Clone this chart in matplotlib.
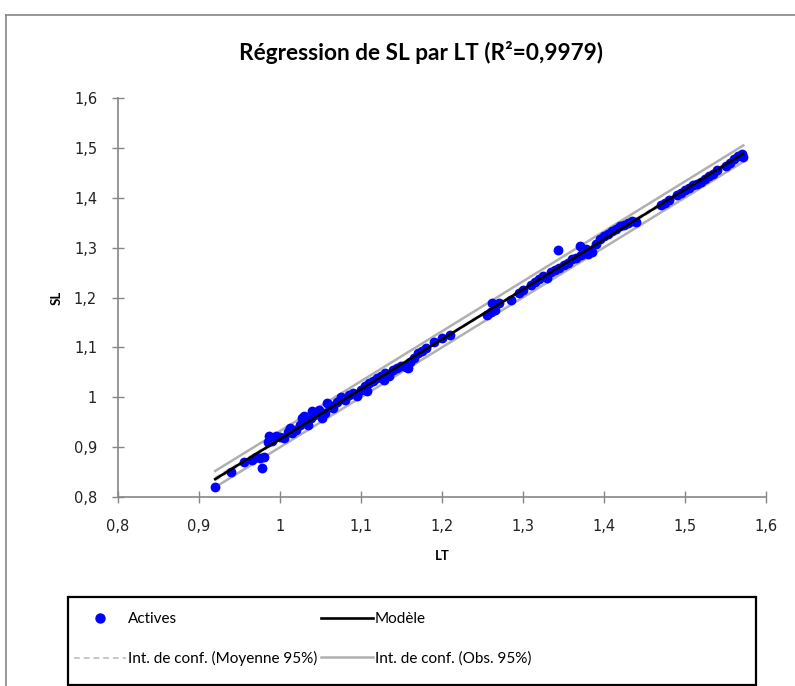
import numpy as np
import matplotlib.pyplot as plt
from matplotlib.lines import Line2D
from matplotlib.patches import Rectangle
from matplotlib.ticker import FuncFormatter

lt = [0.920, 0.940, 0.955, 0.965, 0.970, 0.975, 0.978, 0.980, 0.985, 0.987,
      0.990, 0.995, 1.000, 1.005, 1.010, 1.012, 1.015, 1.020, 1.025, 1.027,
      1.030, 1.032, 1.035, 1.038, 1.040, 1.042, 1.045, 1.048, 1.050, 1.052,
      1.055, 1.058, 1.060, 1.065, 1.070, 1.075, 1.080, 1.085, 1.090, 1.095,
      1.100, 1.105, 1.108, 1.110, 1.115, 1.120, 1.125, 1.128, 1.130, 1.135,
      1.140, 1.145, 1.150, 1.155, 1.158, 1.160, 1.165, 1.170, 1.175, 1.180,
      1.190, 1.200, 1.210, 1.255, 1.260, 1.262, 1.265, 1.270, 1.285, 1.295,
      1.300, 1.310, 1.315, 1.320, 1.325, 1.330, 1.335, 1.340, 1.343, 1.345,
      1.350, 1.355, 1.360, 1.365, 1.370, 1.372, 1.375, 1.378, 1.380, 1.385,
      1.390, 1.395, 1.400, 1.405, 1.410, 1.415, 1.420, 1.425, 1.430, 1.435,
      1.440, 1.470, 1.475, 1.480, 1.490, 1.495, 1.500, 1.505, 1.510, 1.515,
      1.520, 1.525, 1.530, 1.535, 1.540, 1.550, 1.555, 1.560, 1.565, 1.570,
      1.572]
sl = [0.820, 0.850, 0.870, 0.875, 0.880, 0.878, 0.858, 0.880, 0.910, 0.922,
      0.912, 0.922, 0.920, 0.918, 0.930, 0.938, 0.928, 0.935, 0.945, 0.958,
      0.962, 0.950, 0.945, 0.958, 0.972, 0.965, 0.968, 0.975, 0.962, 0.958,
      0.968, 0.988, 0.985, 0.978, 0.990, 1.000, 0.995, 1.005, 1.008, 1.002,
      1.015, 1.022, 1.012, 1.028, 1.032, 1.038, 1.042, 1.035, 1.048, 1.042,
      1.055, 1.058, 1.062, 1.060, 1.058, 1.070, 1.078, 1.088, 1.093, 1.098,
      1.110, 1.118, 1.125, 1.165, 1.170, 1.188, 1.175, 1.188, 1.195, 1.210,
      1.215, 1.225, 1.232, 1.238, 1.243, 1.240, 1.252, 1.255, 1.295, 1.260,
      1.265, 1.270, 1.278, 1.280, 1.303, 1.285, 1.293, 1.298, 1.287, 1.292,
      1.308, 1.318, 1.323, 1.328, 1.333, 1.338, 1.343, 1.345, 1.350, 1.353,
      1.352, 1.385, 1.390, 1.395, 1.405, 1.410, 1.415, 1.420, 1.425, 1.428,
      1.432, 1.438, 1.443, 1.448, 1.455, 1.463, 1.470, 1.478, 1.483, 1.488,
      1.482]

x = np.array(lt)
y = np.array(sl)

# linear model and 95% intervals
b, a = np.polyfit(x, y, 1)
n = len(x)
resid = y - (a + b * x)
s = np.sqrt(np.sum(resid ** 2) / (n - 2))
t = 1.98
xs = np.linspace(x.min(), x.max(), 100)
fit = a + b * xs
lev = 1.0 / n + (xs - x.mean()) ** 2 / np.sum((x - x.mean()) ** 2)
half_mean = t * s * np.sqrt(lev)
half_obs = t * s * np.sqrt(1 + lev)

# tick labels in DejaVu (Verdana-like), the rest in Lato
plt.rcParams['font.family'] = 'DejaVu Sans'
TXT = ['Lato', 'DejaVu Sans']

fig = plt.figure(figsize=(7.95, 6.86), dpi=100)
W, H = 795, 686

# outer chart frame (cropped at right/bottom)
fig.add_artist(Line2D([6 / W, 1.0], [1 - 15 / H, 1 - 15 / H], color='#868686', lw=1.2))
fig.add_artist(Line2D([6 / W, 6 / W], [1 - 15 / H, 0.0], color='#868686', lw=1.2))

ax = fig.add_axes([118 / W, 1 - 497 / H, (766 - 118) / W, (497 - 98) / H])

grey_m = '#c8c8c8'
grey_o = '#b0b0b0'
ax.plot(xs, fit - half_mean, color=grey_m, lw=1.4, ls=(0, (3, 2)), zorder=2)
ax.plot(xs, fit + half_mean, color=grey_m, lw=1.4, ls=(0, (3, 2)), zorder=2)
ax.plot(xs, fit - half_obs, color=grey_o, lw=1.8, zorder=2)
ax.plot(xs, fit + half_obs, color=grey_o, lw=1.8, zorder=2)
ax.scatter(x, y, s=50, color='#0000ff', zorder=3, linewidths=0)
ax.plot(xs, fit, color='black', lw=1.9, zorder=4)

ax.set_xlim(0.8, 1.6)
ax.set_ylim(0.8, 1.6)
ticks = np.round(np.arange(0.8, 1.61, 0.1), 1)
ax.set_xticks(ticks)
ax.set_yticks(ticks)
fmt = FuncFormatter(lambda v, p: ('%g' % round(v, 1)).replace('.', ','))
ax.xaxis.set_major_formatter(fmt)
ax.yaxis.set_major_formatter(fmt)
ax.tick_params(direction='inout', length=8, width=1, color='#868686',
               labelsize=10.5, labelcolor='#222222')
ax.tick_params(axis='x', pad=12)
ax.tick_params(axis='y', pad=11)
for side in ['top', 'right']:
    ax.spines[side].set_visible(False)
for side in ['left', 'bottom']:
    ax.spines[side].set_color('#868686')
    ax.spines[side].set_linewidth(1.2)

ax.set_xlabel('LT', fontsize=9.5, fontweight='bold', labelpad=11, family=TXT)
ax.set_ylabel('SL', fontsize=9.5, fontweight='bold', labelpad=8, family=TXT)
fig.text(421 / W, 1 - 52 / H, 'Régression de SL par LT (R²=0,9979)',
         ha='center', va='center', fontsize=16.3, fontweight='bold', family=TXT)

# legend box
fig.add_artist(Rectangle((68 / W, 1 - 685 / H), (756 - 68) / W, (685 - 597) / H,
                         fill=False, edgecolor='black', lw=1.6, transform=fig.transFigure))
handles = [
    Line2D([], [], ls='none', marker='o', color='#0000ff', markersize=6.5),
    Line2D([], [], color=grey_m, lw=1.4, ls=(0, (3, 2))),
    Line2D([], [], color='black', lw=1.9),
    Line2D([], [], color=grey_o, lw=1.8),
]
labels = ['Actives', 'Int. de conf. (Moyenne 95%)', 'Modèle', 'Int. de conf. (Obs. 95%)']
fig.legend(handles, labels, ncol=2, frameon=False, prop={'family': TXT, 'size': 11},
           loc='upper left', bbox_to_anchor=(68 / W, 1 - 606 / H),
           handlelength=3.4, handletextpad=0.15, columnspacing=0.2,
           labelspacing=1.65, borderaxespad=0)

fig.savefig('out.png', dpi=100)
